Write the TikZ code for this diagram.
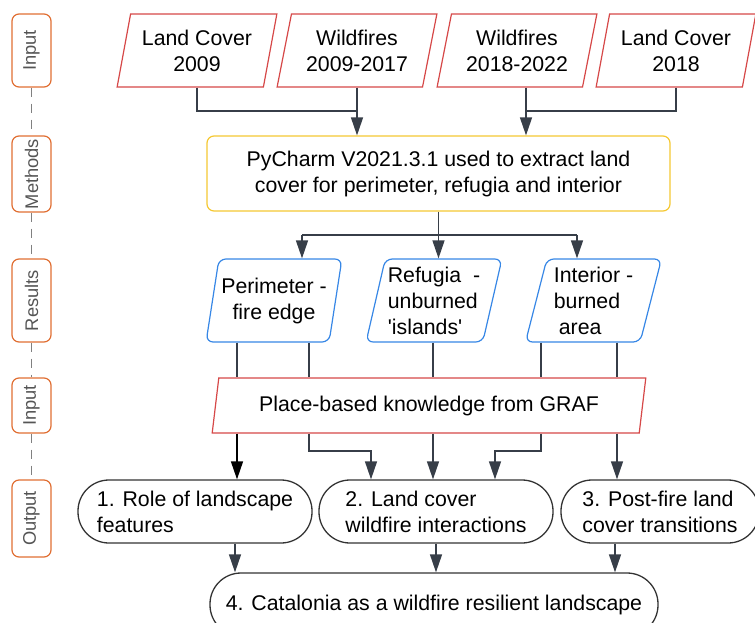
\documentclass[tikz,border=0pt]{standalone}
\usepackage{fontspec}
\setmainfont{Liberation Sans}
\usetikzlibrary{shapes.geometric,arrows.meta}
\definecolor{inred}{RGB}{214,72,72}
\definecolor{methyellow}{RGB}{245,200,50}
\definecolor{resblue}{RGB}{55,135,230}
\definecolor{sideorange}{RGB}{224,110,50}
\definecolor{sidegray}{RGB}{85,85,85}
\definecolor{linegray}{RGB}{55,62,72}
\begin{document}
\begin{tikzpicture}[
    x=1pt, y=-1pt,
    font=\fontsize{21.3}{26}\selectfont,
    datain/.style={trapezium, trapezium left angle=75, trapezium right angle=105, trapezium stretches=true, draw=inred, line width=1.2pt, fill=white, minimum width=160, minimum height=73, align=center, inner sep=0pt},
    result/.style={datain, draw=resblue, rounded corners=7pt, minimum width=136, minimum height=83},
    method/.style={rectangle, draw=methyellow, line width=1.2pt, rounded corners=7pt, minimum width=463, minimum height=75, align=center},
    outcome/.style={rectangle, draw=black!80, line width=1.3pt, rounded corners=31pt, minimum width=234, minimum height=63, align=left},
    sidelab/.style={rectangle, draw=sideorange, line width=1.2pt, rounded corners=7pt, rotate=90, minimum height=39, inner sep=0pt, text=sidegray, font=\fontsize{18.3}{20}\selectfont},
    sidedash/.style={draw=gray, line width=0.8pt, dash pattern=on 9pt off 7pt},
    link/.style={line width=1.3pt, draw=linegray},
    arrow/.style={link, -{Triangle[width=12pt,length=18pt]}}
]
    \useasboundingbox (0,0) rectangle (755,622);

    % stage labels on the left
    \node [sidelab, minimum width=73] (lin) at (31.5,50.5) {Input};
    \node [sidelab, minimum width=76] (lmeth) at (31.5,174) {Methods};
    \node [sidelab, minimum width=83] (lres) at (31.5,300.5) {Results};
    \node [sidelab, minimum width=55] (lin2) at (31.5,405.5) {Input};
    \node [sidelab, minimum width=77] (lout) at (31.5,518.5) {Output};
    \draw [sidedash] (lin) -- (lmeth);
    \draw [sidedash] (lmeth) -- (lres);
    \draw [sidedash] (lres) -- (lin2);
    \draw [sidedash] (lin2) -- (lout);

    % input data
    \node [datain] (lc09) at (197,50.5) {Land Cover\\2009};
    \node [datain] (wf917) at (357,50.5) {Wildfires\\2009-2017};
    \node [datain] (wf1822) at (517,50.5) {Wildfires\\2018-2022};
    \node [datain] (lc18) at (676,50.5) {Land Cover\\2018};

    \node [method] (pycharm) at (438.5,173.5) {PyCharm V2021.3.1 used to extract land\\cover for perimeter, refugia and interior};

    % results
    \node [result] (perim) at (274,300.5) {Perimeter -\\fire edge};
    \node [result, align=left] (refug) at (434,300.5) {Refugia\ \ -\\unburned\\\textquotesingle islands\textquotesingle};
    \node [result, align=left] (inter) at (593.5,300.5) {Interior -\\burned\\\hspace{5pt}area};

    \node [datain, minimum width=436, minimum height=55] (graf) at (429,405.5) {Place-based knowledge from GRAF};

    % outputs
    \node [outcome] (role) at (195,511.5) {1. Role of landscape\\features};
    \node [outcome] (lcwi) at (436,511.5) {2. Land cover\\wildfire interactions};
    \node [outcome, minimum width=198] (post) at (660,511.5) {3. Post-fire land\\cover transitions};
    \node [outcome, minimum width=448, align=center] (catal) at (434,604.5) {4. Catalonia as a wildfire resilient landscape};

    % inputs to methods
    \coordinate (joinl) at (357,111);
    \coordinate (joinr) at (526,111);
    \draw [link] (lc09.south) |- (joinl);
    \draw [arrow] (wf917.south) -- (wf917.south |- pycharm.north);
    \draw [link] (lc18.south) |- (joinr);
    \draw [arrow] (joinr |- wf1822.south) -- (joinr |- pycharm.north);

    % methods to results
    \coordinate (sl) at (302,235);
    \coordinate (sr) at (577,235);
    \draw [link] (pycharm.south) -- (pycharm.south |- sl);
    \draw [link] (sl) -- (sr);
    \draw [arrow] (sl) -- (sl |- perim.north);
    \draw [arrow] (pycharm.south |- sl) -- (pycharm.south |- refug.north);
    \draw [arrow] (sr) -- (sr |- inter.north);

    % results and GRAF to outputs
    \coordinate (xa) at (237,0);
    \coordinate (xb) at (309,0);
    \coordinate (xc) at (433,0);
    \coordinate (xd) at (541,0);
    \coordinate (xe) at (617,0);
    \coordinate (kb) at (371,451);
    \coordinate (kd) at (495,451);
    \draw [link] (xa |- perim.south) -- (xa |- graf.north);
    \draw [link] (xb |- perim.south) -- (xb |- graf.north);
    \draw [link] (xc |- refug.south) -- (xc |- graf.north);
    \draw [link] (xd |- inter.south) -- (xd |- graf.north);
    \draw [link] (xe |- inter.south) -- (xe |- graf.north);
    \draw [arrow, draw=black] (xa |- graf.south) -- (xa |- role.north);
    \draw [arrow] (xb |- graf.south) |- (kb) -- (kb |- lcwi.north);
    \draw [arrow] (xc |- graf.south) -- (xc |- lcwi.north);
    \draw [arrow] (xd |- graf.south) |- (kd) -- (kd |- lcwi.north);
    \draw [arrow] (xe |- graf.south) -- (xe |- post.north);

    % outputs to final
    \coordinate (ya) at (235,0);
    \coordinate (ye) at (615,0);
    \draw [arrow] (ya |- role.south) -- (ya |- catal.north);
    \draw [arrow] (lcwi.south) -- (lcwi.south |- catal.north);
    \draw [arrow] (ye |- post.south) -- (ye |- catal.north);
\end{tikzpicture}
\end{document}
